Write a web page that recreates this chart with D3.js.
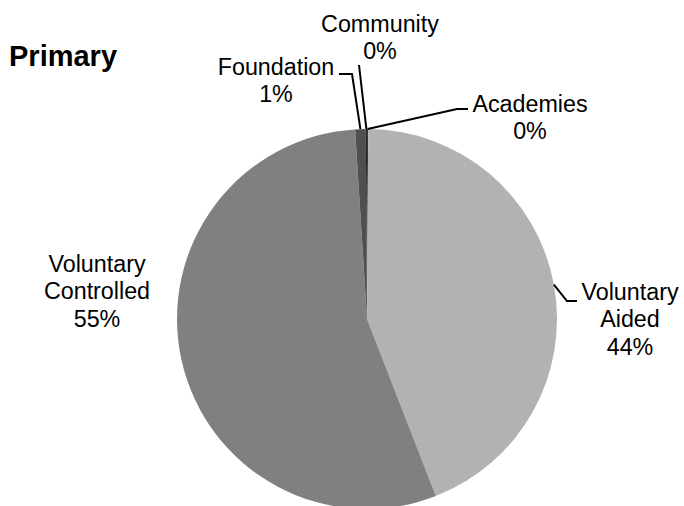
<!DOCTYPE html>
<html>
<head>
<meta charset="utf-8">
<script src="https://cdn.jsdelivr.net/npm/d3@7"></script>
<style>
  html, body { margin: 0; padding: 0; background: #fff; }
  svg { display: block; }
  text { font-family: "Liberation Sans", Arial, sans-serif; fill: #000; }
</style>
</head>
<body>
<svg id="chart" width="684" height="506"></svg>
<script>
// ---- data ----
const title = "Primary";
const categories = ["Academies", "Voluntary Aided", "Voluntary Controlled", "Foundation", "Community"];
const values = [0.1, 44.0, 54.9, 0.9, 0.1];
const percentLabels = ["0%", "44%", "55%", "1%", "0%"];
const labelLines = [["Academies"], ["Voluntary", "Aided"], ["Voluntary", "Controlled"], ["Foundation"], ["Community"]];

// ---- styles / layout ----
const colors = ["#3a3a3a", "#b2b2b2", "#808080", "#4f4f4f", "#262626"];
const W = 684, H = 506;
const cx = 367, cy = 319, R = 190;
const fontSize = 23.3, lineH = 27.4;
// label layout: text center x, first baseline y, leader route (elbow, end) or null
const labelLayout = [
  { x: 530, y: 112, route: [[457, 109], [468, 109]] },
  { x: 630, y: 300, route: [[567, 301], [577, 301]] },
  { x: 97,  y: 272, route: null },
  { x: 276, y: 75,  route: [[352, 74], [339, 74]] },
  { x: 380, y: 32,  route: [[359, 65]] }
];

const svg = d3.select("#chart");

svg.append("text")
  .attr("x", 9).attr("y", 66)
  .style("font-size", "29px").style("font-weight", "bold")
  .text(title);

const pie = d3.pie().sort(null).value(d => d)
  .startAngle(0).endAngle(2 * Math.PI);
const arcs = pie(values);
const arc = d3.arc().innerRadius(0).outerRadius(R);

const g = svg.append("g").attr("transform", `translate(${cx},${cy})`);
g.selectAll("path.slice")
  .data(arcs)
  .join("path")
  .attr("class", "slice")
  .attr("d", arc)
  .attr("fill", (d, i) => colors[i]);

// leader lines
const lineGen = d3.line();
arcs.forEach((a, i) => {
  const L = labelLayout[i];
  if (!L.route) return;
  const mid = (a.startAngle + a.endAngle) / 2;
  const p0 = [cx + R * Math.sin(mid), cy - R * Math.cos(mid)];
  svg.append("path")
    .attr("d", lineGen([p0, ...L.route]))
    .attr("fill", "none")
    .attr("stroke", "#000")
    .attr("stroke-width", 2);
});

// labels
arcs.forEach((a, i) => {
  const L = labelLayout[i];
  const lines = [...labelLines[i], percentLabels[i]];
  const t = svg.append("text")
    .attr("text-anchor", "middle")
    .style("font-size", fontSize + "px");
  lines.forEach((s, k) => {
    t.append("tspan").attr("x", L.x).attr("y", L.y + k * lineH).text(s);
  });
});
</script>
</body>
</html>
